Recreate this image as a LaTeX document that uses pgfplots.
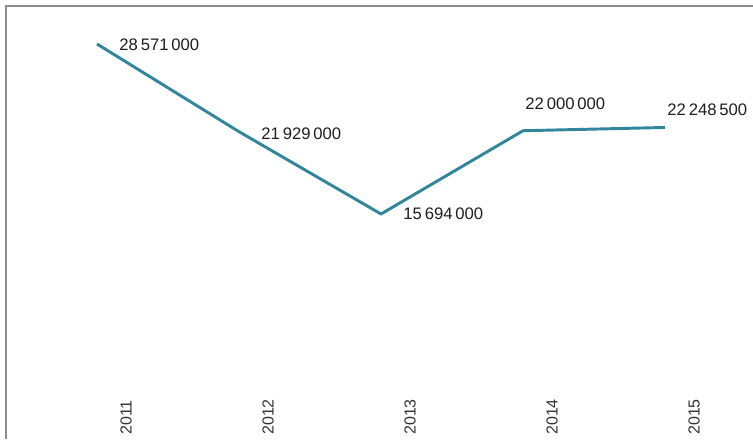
\documentclass[border=0pt]{standalone}
\usepackage{fontspec}
\setmainfont{Liberation Sans}
\usepackage{pgfplots}
\usepackage{pgfplotstable}
\pgfplotsset{compat=1.18}
\definecolor{linecol}{HTML}{31859C}
\definecolor{framecol}{HTML}{8C8C8C}
\definecolor{labcol}{HTML}{1E1E1E}
\definecolor{ticklab}{HTML}{333333}

% year, value, label offset (pt), label text
\pgfplotstableread{
year value dx dy label
2011 28571000 15.75 -0.4 {28\,571\,000}
2012 21929000 15.75 -1.5 {21\,929\,000}
2013 15694000 15.75 0 {15\,694\,000}
2014 22000000 0.75 20.25 {22\,000\,000}
2015 22248500 0.75 13.5 {22\,248\,500}
}\datatable

\begin{document}
\begin{tikzpicture}
\begin{axis}[
    scale only axis,
    width=564.75pt,
    height=329.25pt,
    xmin=2010.3169, xmax=2015.6197,
    ymin=-1349065, ymax=31903868,
    axis line style={draw=none},
    tick style={draw=none},
    major tick length=0pt,
    ytick=\empty,
    xtick={2011,2012,2013,2014,2015},
    xticklabels={2011,2012,2013,2014,2015},
    xticklabel style={xshift=21.75pt, yshift=3pt, rotate=90, anchor=west,
        inner sep=0pt, font=\fontsize{12}{14}\selectfont, text=ticklab},
    clip=false,
]
\addplot[linecol, line width=2.2pt, line join=round,
    nodes near coords,
    point meta=explicit symbolic,
    visualization depends on={\thisrow{dx}\as\dx},
    visualization depends on={\thisrow{dy}\as\dy},
    nodes near coords style={anchor=west, inner sep=0pt,
        xshift=\dx pt, yshift=\dy pt,
        font=\fontsize{12.5}{15}\selectfont, text=labcol},
] table[x=year, y=value, meta=label] {\datatable};
\draw[framecol, line width=1.5pt] (rel axis cs:0.008,0) |- (rel axis cs:1,0.9863);
\end{axis}
\pgfresetboundingbox
\path (current axis.south west) rectangle (current axis.north east);
\end{tikzpicture}
\end{document}
